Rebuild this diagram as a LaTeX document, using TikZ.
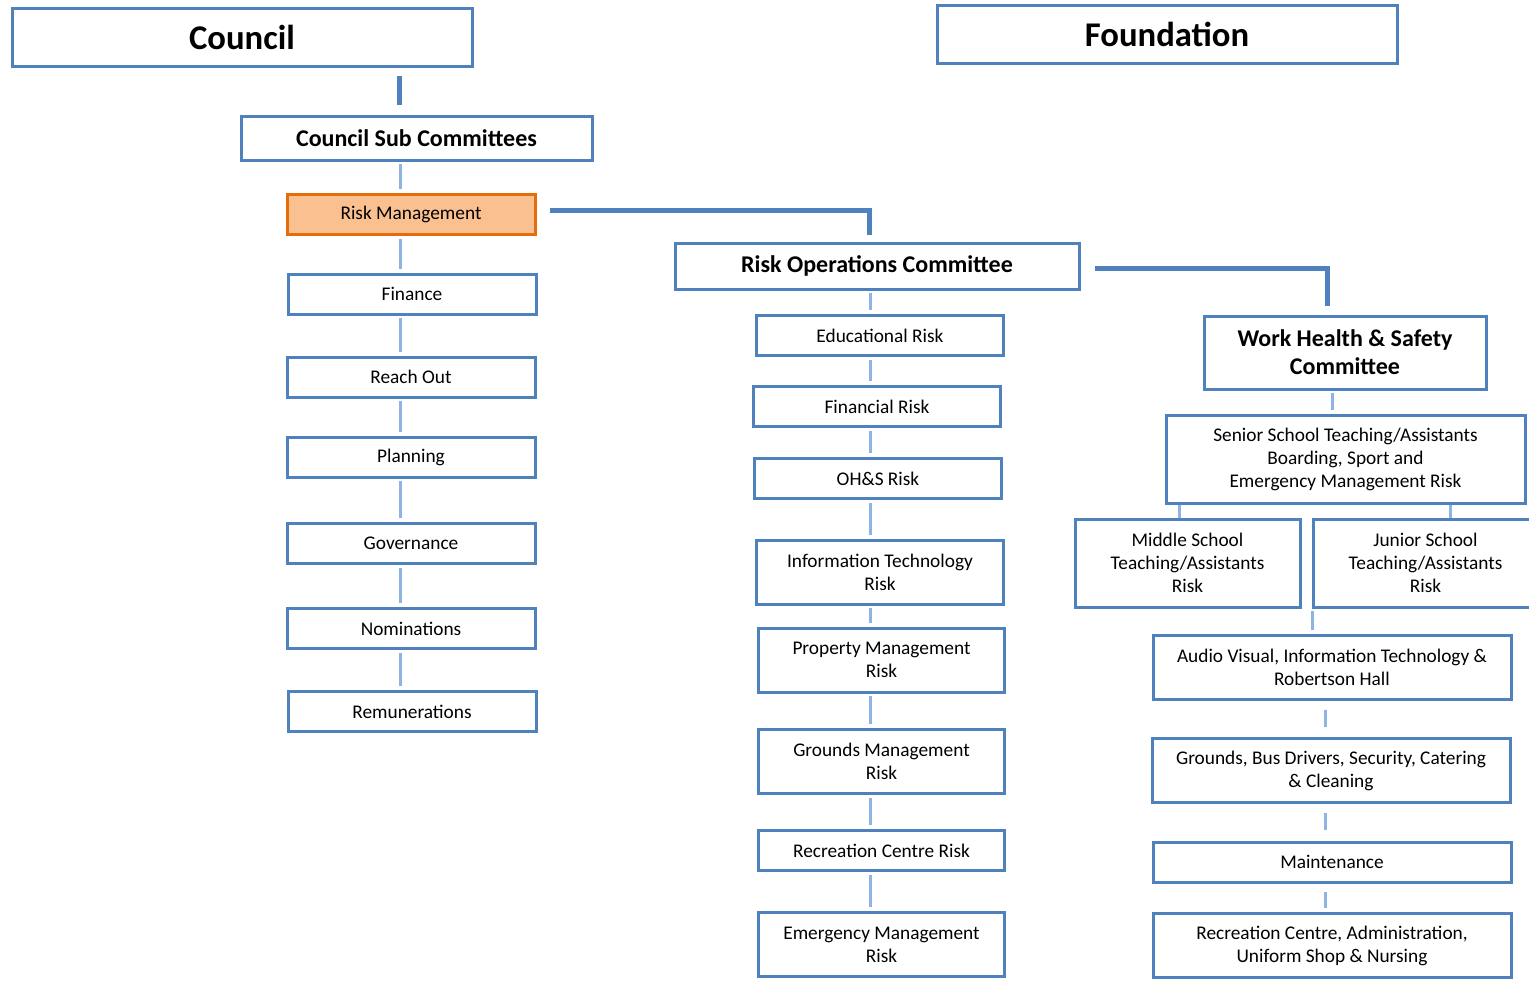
\documentclass[tikz,border=0pt]{standalone}
\usepackage{fontspec}
\setmainfont{Carlito}
\usetikzlibrary{calc}
\definecolor{obord}{HTML}{4F81BD}
\definecolor{olink}{HTML}{8EB4E3}
\definecolor{ofill}{HTML}{FAC090}
\definecolor{oedge}{HTML}{E46C0A}

\begin{document}
\begin{tikzpicture}[x=0.75pt,y=-0.75pt,
  box/.style={draw=obord,line width=2.25pt,fill=white,align=center,inner sep=2pt,
              font=\fontsize{14.5pt}{17.25pt}\selectfont},
  head/.style={box,font=\bfseries\fontsize{26pt}{31pt}\selectfont,
               minimum width=345pt,minimum height=43.5pt},
  comm/.style={box,font=\bfseries\fontsize{18pt}{21pt}\selectfont},
  lbox/.style={box,minimum width=186pt,minimum height=30pt},
  mbox/.style={box,minimum width=185pt,minimum height=30pt},
  rbox/.style={box,minimum width=268.5pt,minimum height=30pt},
  tall/.style={minimum height=48pt},
  hot/.style={lbox,draw=oedge,fill=ofill},
  link/.style={draw=olink,line width=2.25pt,shorten <=2pt,shorten >=3pt},
  trunk/.style={draw=obord,line width=3.75pt}]

\useasboundingbox (0,0) rectangle (1529,982);

% top level
\node[head] (council) at (242,37) {Council};
\node[head] (found) at (1167,34.5) {Foundation};

% council side
\node[comm,minimum width=263.25pt,minimum height=33pt] (sub) at (416.5,138) {Council Sub Committees};
\node[hot] (rm) at (411,214.5) {Risk Management};
\node[lbox] (fin) at (412,294) {Finance};
\node[lbox] (reach) at (411,377) {Reach Out};
\node[lbox] (plan) at (411,457) {Planning};
\node[lbox] (gov) at (411,543.5) {Governance};
\node[lbox] (nom) at (411,628.5) {Nominations};
\node[lbox] (rem) at (412,711.5) {Remunerations};

% risk operations
\node[comm,minimum width=303pt,minimum height=34.5pt] (roc) at (877,266) {Risk Operations Committee};
\node[mbox] (edu) at (880,335.5) {Educational Risk};
\node[mbox] (finr) at (877,406.5) {Financial Risk};
\node[mbox] (ohs) at (878,478.5) {OH\&S Risk};
\node[mbox,tall] (it) at (880,572) {Information Technology\\Risk};
\node[mbox,tall] (prop) at (881.5,660) {Property Management\\Risk};
\node[mbox,tall] (grm) at (881.5,761.5) {Grounds Management\\Risk};
\node[mbox] (rec) at (881.5,850.5) {Recreation Centre Risk};
\node[mbox,tall] (emg) at (881.5,944.5) {Emergency Management\\Risk};

% work health and safety
\node[comm,minimum width=211.5pt,minimum height=54.75pt] (whs) at (1345,352.5) {Work Health \& Safety\\Committee};
\node[box,minimum width=269.25pt,minimum height=66pt] (sen) at (1345.5,459)
  {Senior School Teaching/Assistants\\Boarding, Sport and\\Emergency Management Risk};
\node[box,minimum width=168.75pt,minimum height=66pt] (mid) at (1187.5,563)
  {Middle School\\Teaching/Assistants\\Risk};
\node[box,minimum width=168.75pt,minimum height=66pt] (jun) at (1425.5,563)
  {Junior School\\Teaching/Assistants\\Risk};
\node[rbox,tall] (av) at (1332,667) {Audio Visual, Information Technology \&\\Robertson Hall};
\node[rbox,tall] (gbd) at (1331,770.5) {Grounds, Bus Drivers, Security, Catering\\\& Cleaning};
\node[rbox] (mnt) at (1332,862) {Maintenance};
\node[rbox,tall] (radm) at (1332,945.5) {Recreation Centre, Administration,\\Uniform Shop \& Nursing};

% connectors
\coordinate (lspine) at (400,0);
\coordinate (mspine) at (870,0);
\coordinate (rspine) at (1325,0);

\draw[trunk,shorten <=6pt,shorten >=7.5pt] (council.south -| 399,0) -- (sub.north -| 399,0);
\foreach \a/\b in {sub/rm,rm/fin,fin/reach,reach/plan,plan/gov,gov/nom,nom/rem}
  \draw[link] (\a.south -| lspine) -- (\b.north -| lspine);

\draw[trunk] ($(rm.east)+(13,-4)$) -| ($(roc.north)+(-8,-7)$);
\foreach \a/\b in {roc/edu,edu/finr,finr/ohs,ohs/it,it/prop,prop/grm,grm/rec,rec/emg}
  \draw[link] (\a.south -| mspine) -- (\b.north -| mspine);

\draw[trunk] ($(roc.east)+(14,2)$) -| ($(whs.north)+(-18,-9)$);
\draw[link] (whs.south -| 1332,0) -- (sen.north -| 1332,0);
\draw[link,shorten <=0pt,shorten >=0pt] (sen.south -| 1179,0) -- (mid.north -| 1179,0);
\draw[link,shorten <=0pt,shorten >=0pt] (sen.south -| 1450,0) -- (jun.north -| 1450,0);
\draw[link] (jun.south -| 1312,0) -- (av.north -| 1312,0);
\foreach \a/\b/\s/\t in {av/gbd/7/7.5,gbd/mnt/7/8,mnt/radm/6/3}
  \draw[link,shorten <=\s pt,shorten >=\t pt] (\a.south -| rspine) -- (\b.north -| rspine);
\end{tikzpicture}
\end{document}
